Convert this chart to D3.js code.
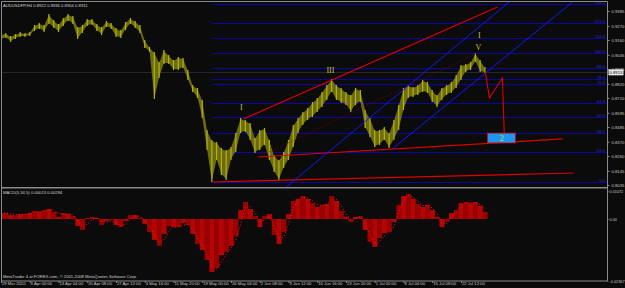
<!DOCTYPE html>
<html>
<head>
<meta charset="utf-8">
<script src="https://cdn.jsdelivr.net/npm/d3@7"></script>
<style>
  body { margin: 0; background: #0b0b0b; }
  svg { display: block; }
</style>
</head>
<body>
<div id="chart"></div>
<script>
// AUDUSD H4 chart (MetaTrader 4 look) with MACD sub window

// time axis labels, one every label step
var dateLabels = ['29 Mar 2010', '6 Apr 00:00', '13 Apr 04:00', '20 Apr 08:00', '27 Apr 12:00',
  '4 May 16:00', '11 May 20:00', '19 May 00:00', '26 May 04:00', '2 Jun 08:00', '9 Jun 12:00',
  '16 Jun 16:00', '23 Jun 20:00', '1 Jul 00:00', '8 Jul 04:00', '15 Jul 08:00', '22 Jul 12:00'];

var priceTicks = [0.9385, 0.9270, 0.9160, 0.9045, 0.8935, 0.8820, 0.8710, 0.8595,
  0.8485, 0.8370, 0.8260, 0.8145, 0.8035];

var macdTicks = [0.01072, 0.00, -0.02367];
var macdTickNames = ['0.01072', '0.00', '-0.02367'];

// price ranges, sampled every 1/6 of a label step
var priceHigh = [0.9207, 0.9214, 0.9191, 0.9207, 0.9222, 0.9214, 0.9222, 0.9276, 0.9292, 0.9276,
  0.9362, 0.9315, 0.9284, 0.9331, 0.9362, 0.9346, 0.9261, 0.9276, 0.9323, 0.9323,
  0.9284, 0.9261, 0.9307, 0.9292, 0.9253, 0.9238, 0.9300, 0.9331, 0.9307, 0.9276,
  0.9160, 0.9106, 0.9067, 0.8989, 0.9082, 0.9044, 0.9005, 0.9028, 0.9020, 0.8927,
  0.8811, 0.8788, 0.8694, 0.8462, 0.8384, 0.8369, 0.8322, 0.8306, 0.8330, 0.8438,
  0.8555, 0.8539, 0.8516, 0.8400, 0.8462, 0.8477, 0.8384, 0.8268, 0.8229, 0.8291,
  0.8384, 0.8500, 0.8555, 0.8601, 0.8632, 0.8679, 0.8710, 0.8756, 0.8811, 0.8857,
  0.8811, 0.8788, 0.8756, 0.8733, 0.8788, 0.8772, 0.8617, 0.8555, 0.8462, 0.8462,
  0.8485, 0.8438, 0.8539, 0.8656, 0.8788, 0.8811, 0.8795, 0.8811, 0.8850, 0.8834,
  0.8772, 0.8733, 0.8788, 0.8811, 0.8834, 0.8888, 0.8966, 0.8974, 0.8989, 0.9059,
  0.9005, 0.8951];
var priceLow = [0.9160, 0.9176, 0.9144, 0.9168, 0.9183, 0.9183, 0.9191, 0.9230, 0.9245, 0.9222,
  0.9284, 0.9253, 0.9222, 0.9269, 0.9307, 0.9284, 0.9168, 0.9214, 0.9269, 0.9276,
  0.9230, 0.9199, 0.9261, 0.9245, 0.9183, 0.9176, 0.9238, 0.9284, 0.9253, 0.9214,
  0.9098, 0.9067, 0.8702, 0.8865, 0.8974, 0.8974, 0.8927, 0.8927, 0.8943, 0.8850,
  0.8756, 0.8710, 0.8555, 0.8306, 0.8058, 0.8229, 0.8112, 0.8074, 0.8229, 0.8291,
  0.8438, 0.8446, 0.8384, 0.8283, 0.8306, 0.8345, 0.8229, 0.8136, 0.8074, 0.8167,
  0.8229, 0.8330, 0.8438, 0.8500, 0.8539, 0.8562, 0.8601, 0.8640, 0.8694, 0.8756,
  0.8694, 0.8671, 0.8656, 0.8601, 0.8656, 0.8679, 0.8477, 0.8407, 0.8330, 0.8345,
  0.8384, 0.8322, 0.8384, 0.8462, 0.8617, 0.8710, 0.8718, 0.8733, 0.8756, 0.8749,
  0.8679, 0.8640, 0.8694, 0.8733, 0.8749, 0.8788, 0.8850, 0.8912, 0.8927, 0.8989,
  0.8912, 0.8904];

// MACD histogram and signal, same sampling
var macdHist = [0.0023, 0.0023, 0.0015, 0.0015, 0.0019, 0.0019, 0.0023, 0.0031, 0.0027, 0.0034,
  0.0038, 0.0027, 0.0008, 0.0023, 0.0019, 0.0011, -0.0027, -0.0042, 0.0004, 0.0008,
  0.0004, -0.0023, -0.0008, -0.0004, -0.0023, -0.0031, -0.0008, 0.0015, 0.0015, 0.0004,
  -0.0019, -0.0050, -0.0080, -0.0103, -0.0057, -0.0027, -0.0031, -0.0031, -0.0015, -0.0023,
  -0.0057, -0.0096, -0.0119, -0.0157, -0.0203, -0.0188, -0.0138, -0.0126, -0.0103, -0.0065,
  0.0034, 0.0065, 0.0038, 0.0011, -0.0031, 0.0011, 0.0019, -0.0061, -0.0096, -0.0050,
  0.0019, 0.0069, 0.0077, 0.0088, 0.0077, 0.0061, 0.0046, 0.0054, 0.0057, 0.0088,
  0.0069, 0.0031, 0.0008, -0.0011, 0.0008, 0.0011, -0.0042, -0.0088, -0.0107, -0.0073,
  -0.0054, -0.0050, -0.0011, 0.0054, 0.0088, 0.0096, 0.0077, 0.0057, 0.0046, 0.0054,
  0.0034, 0.0008, -0.0031, -0.0011, 0.0023, 0.0034, 0.0061, 0.0065, 0.0061, 0.0065,
  0.0050, 0.0027];
var macdSignal = [0.0022, 0.0023, 0.0020, 0.0017, 0.0016, 0.0018, 0.0020, 0.0025, 0.0028, 0.0030,
  0.0034, 0.0033, 0.0022, 0.0019, 0.0020, 0.0017, -0.0005, -0.0030, -0.0020, -0.0004,
  0.0004, -0.0008, -0.0012, -0.0008, -0.0015, -0.0026, -0.0018, 0.0002, 0.0012, 0.0010,
  -0.0006, -0.0030, -0.0060, -0.0088, -0.0080, -0.0048, -0.0032, -0.0030, -0.0024, -0.0021,
  -0.0038, -0.0072, -0.0104, -0.0138, -0.0180, -0.0192, -0.0165, -0.0135, -0.0113, -0.0082,
  -0.0020, 0.0045, 0.0048, 0.0025, -0.0008, -0.0006, 0.0012, -0.0030, -0.0075, -0.0070,
  -0.0018, 0.0042, 0.0070, 0.0082, 0.0080, 0.0070, 0.0055, 0.0052, 0.0055, 0.0072,
  0.0075, 0.0050, 0.0020, 0.0000, 0.0002, 0.0008, -0.0020, -0.0062, -0.0095, -0.0088,
  -0.0065, -0.0052, -0.0030, 0.0025, 0.0068, 0.0090, 0.0085, 0.0068, 0.0052, 0.0052,
  0.0043, 0.0020, -0.0015, -0.0018, 0.0008, 0.0026, 0.0048, 0.0062, 0.0062, 0.0064,
  0.0056, 0.0040];

// fibonacci levels
var fibNames = ['138.2', '123.6', '111.8', '100.0', '88.6', '78.6', '76.4', '61.8', '50.0', '38.2', '23.6', '0.0'];
var fibPrices = [0.9439, 0.9292, 0.9176, 0.9059, 0.8943, 0.8857, 0.8819, 0.8671, 0.8562, 0.8438, 0.8291, 0.8058];
var fibStart = 7.35;

// trend lines: [t1, p1, t2, p2] (t in label steps)
var redLines = [[8.43, 0.8547, 17.27, 0.9416], [8.95, 0.8252, 19.53, 0.8392], [7.35, 0.8058, 19.92, 0.8128]];
var blueLines = [[9.92, 0.8019, 17.72, 0.9463], [13.61, 0.8314, 19.88, 0.9455]];
var dottedLine = [8.95, 0.8252, 16.57, 0.9059];

// projected zigzag
var zigTimes = [16.85, 16.99, 17.44, 17.51];
var zigPrices = [0.8912, 0.8710, 0.8865, 0.8415];

// wave labels
var waveNames = ['I', 'III', 'V', 'I'];
var waveTimes = [8.36, 11.46, 16.61, 16.64];
var wavePrices = [0.8640, 0.8927, 0.9106, 0.9199];

var bidPrice = 0.8913;
var boxTimes = [16.92, 17.90];
var boxPrices = [0.8438, 0.8361];

var title = 'AUDUSDFP,H4  0.8922 0.8936 0.8904 0.8911';
var macdTitle = 'MACD(5,34,5) 0.00013 0.00284';
var footer = 'MetaTrader 4 at FOREX.com, \u00a9 2001-2008 MetaQuotes Software Corp.';

// ---- layout ----
var W = 625, H = 288;
var left = 1.5, right = 607.5;
var pTop = 2, pBottom = 187;
var mTop = 189, mBottom = 281;
var step = 1 / 6;
var fontTiny = 4.2;
var fontFamily = 'Liberation Sans, Arial, sans-serif';

var svg = d3.select('#chart').append('svg')
    .attr('width', W)
    .attr('height', H)
    .style('background', '#0b0b0b');

var x = d3.scaleLinear().domain([0, 21.08]).range([1, 607]);
var yP = d3.scaleLinear().domain([0.80193, 0.94549]).range([pBottom, pTop]);
var yM = d3.scaleLinear().domain([-0.02375, 0.01149]).range([mBottom, mTop]);

svg.append('clipPath').attr('id', 'clipP')
  .append('rect').attr('x', left).attr('y', pTop).attr('width', right - left).attr('height', pBottom - pTop);
svg.append('clipPath').attr('id', 'clipM')
  .append('rect').attr('x', left).attr('y', mTop).attr('width', right - left).attr('height', mBottom - mTop);

var gP = svg.append('g').attr('clip-path', 'url(#clipP)');
var gM = svg.append('g').attr('clip-path', 'url(#clipM)');

// fibonacci lines
gP.selectAll('.fib')
  .data(fibPrices)
  .enter().append('line')
    .attr('x1', x(fibStart))
    .attr('x2', right)
    .attr('y1', function(d) { return Math.round(yP(d)) + 0.5; })
    .attr('y2', function(d) { return Math.round(yP(d)) + 0.5; })
    .attr('stroke', '#0808a0')
    .attr('stroke-width', 1);

gP.selectAll('.fibText')
  .data(fibNames)
  .enter().append('text')
    .attr('x', 605)
    .attr('y', function(d, i) { return Math.round(yP(fibPrices[i])) - 0.5; })
    .attr('text-anchor', 'end')
    .attr('font-family', fontFamily)
    .attr('font-size', fontTiny)
    .attr('fill', '#2a2ad8')
    .text(function(d) { return d; });

// bid line
gP.append('line')
  .attr('x1', left).attr('x2', right)
  .attr('y1', Math.round(yP(bidPrice)) + 0.5)
  .attr('y2', Math.round(yP(bidPrice)) + 0.5)
  .attr('stroke', '#3c4450')
  .attr('stroke-dasharray', '1 1');

// price ranges: a soft band plus one bar per sample
var idx = d3.range(priceHigh.length);
gP.append('path')
  .datum(idx)
  .attr('fill', '#8e8e10')
  .attr('fill-opacity', 0.75)
  .attr('d', d3.area()
    .x(function(i) { return x(i * step); })
    .y0(function(i) { return yP(priceLow[i]) - 1; })
    .y1(function(i) { return yP(priceHigh[i]) + 1; })
  );
gP.selectAll('.bar')
  .data(idx)
  .enter().append('line')
    .attr('x1', function(i) { return x(i * step); })
    .attr('x2', function(i) { return x(i * step); })
    .attr('y1', function(i) { return yP(priceHigh[i]); })
    .attr('y2', function(i) { return yP(priceLow[i]); })
    .attr('stroke', '#b2b214')
    .attr('stroke-width', 1.2);

// trend lines
gP.selectAll('.red')
  .data(redLines)
  .enter().append('line')
    .attr('x1', function(d) { return x(d[0]); })
    .attr('y1', function(d) { return yP(d[1]); })
    .attr('x2', function(d) { return x(d[2]); })
    .attr('y2', function(d) { return yP(d[3]); })
    .attr('stroke', '#e00000')
    .attr('stroke-width', 1.2);

gP.selectAll('.blue')
  .data(blueLines)
  .enter().append('line')
    .attr('x1', function(d) { return x(d[0]); })
    .attr('y1', function(d) { return yP(d[1]); })
    .attr('x2', function(d) { return x(d[2]); })
    .attr('y2', function(d) { return yP(d[3]); })
    .attr('stroke', '#1818f0')
    .attr('stroke-width', 1);

gP.append('line')
  .attr('x1', x(dottedLine[0])).attr('y1', yP(dottedLine[1]))
  .attr('x2', x(dottedLine[2])).attr('y2', yP(dottedLine[3]))
  .attr('stroke', '#a00000')
  .attr('stroke-width', 0.8)
  .attr('stroke-dasharray', '1 2');

// projected path
gP.append('path')
  .datum(zigTimes)
  .attr('fill', 'none')
  .attr('stroke', '#e00000')
  .attr('stroke-width', 1.1)
  .attr('d', d3.line()
    .x(function(d) { return x(d); })
    .y(function(d, i) { return yP(zigPrices[i]); })
  );

// wave 2 target box
gP.append('rect')
  .attr('x', x(boxTimes[0]))
  .attr('y', yP(boxPrices[0]))
  .attr('width', x(boxTimes[1]) - x(boxTimes[0]))
  .attr('height', yP(boxPrices[1]) - yP(boxPrices[0]))
  .attr('fill', '#1e96f0')
  .attr('stroke', '#d00000')
  .attr('stroke-width', 0.8);
gP.append('text')
  .attr('x', (x(boxTimes[0]) + x(boxTimes[1])) / 2)
  .attr('y', (yP(boxPrices[0]) + yP(boxPrices[1])) / 2 + 3)
  .attr('text-anchor', 'middle')
  .attr('font-family', 'Liberation Serif, Times New Roman, serif')
  .attr('font-size', 9)
  .attr('fill', '#d8d020')
  .text('2');

// wave labels
gP.selectAll('.wave')
  .data(waveNames)
  .enter().append('text')
    .attr('x', function(d, i) { return x(waveTimes[i]); })
    .attr('y', function(d, i) { return yP(wavePrices[i]) + 3; })
    .attr('text-anchor', 'middle')
    .attr('font-family', 'Liberation Serif, Times New Roman, serif')
    .attr('font-size', 8)
    .attr('fill', '#c8c028')
    .text(function(d) { return d; });

// MACD histogram
var bw = x(step) - x(0);
gM.selectAll('.hist')
  .data(macdHist)
  .enter().append('rect')
    .attr('x', function(d, i) { return x(i * step) - bw / 2; })
    .attr('y', function(d) { return Math.min(yM(d), yM(0)); })
    .attr('width', bw + 0.3)
    .attr('height', function(d) { return Math.abs(yM(d) - yM(0)); })
    .attr('fill', function(d, i) { return i % 2 ? '#9a0000' : '#b40404'; });

gM.append('path')
  .datum(macdSignal)
  .attr('fill', 'none')
  .attr('stroke', '#ff1a1a')
  .attr('stroke-width', 1)
  .attr('stroke-dasharray', '1 2')
  .attr('d', d3.line()
    .x(function(d, i) { return x(i * step); })
    .y(function(d) { return yM(d); })
  );

// frames
var frame = svg.append('g').attr('stroke', '#8a8a8a').attr('fill', 'none');
frame.append('line').attr('x1', left).attr('x2', right).attr('y1', 1.5).attr('y2', 1.5);
frame.append('line').attr('x1', left).attr('x2', left).attr('y1', 1.5).attr('y2', mBottom);
frame.append('line').attr('x1', right).attr('x2', right).attr('y1', 1.5).attr('y2', mBottom);
frame.append('rect').attr('x', left).attr('y', pBottom).attr('width', right - left).attr('height', 1.5)
  .attr('fill', '#8a8a8a').attr('stroke', 'none');
frame.append('line').attr('x1', left).attr('x2', right).attr('y1', mBottom).attr('y2', mBottom);

// price axis
var axisP = svg.append('g')
  .attr('transform', 'translate(' + right + ',0)')
  .call(d3.axisRight(yP).tickValues(priceTicks).tickSize(2).tickPadding(2).tickFormat(d3.format('.4f')));
var axisM = svg.append('g')
  .attr('transform', 'translate(' + right + ',0)')
  .call(d3.axisRight(yM).tickValues(macdTicks).tickSize(1).tickPadding(1)
    .tickFormat(function(d, i) { return macdTickNames[i]; }));
[axisP, axisM].forEach(function(a) {
  a.select('.domain').remove();
  a.selectAll('line').attr('stroke', '#8a8a8a');
  a.selectAll('text').attr('fill', '#c8c8c8').attr('font-size', fontTiny).attr('font-family', fontFamily);
});
axisM.selectAll('text').attr('font-size', 3.8);

// bid price tag, drawn over the axis like the terminal does
svg.append('rect')
  .attr('x', right + 1).attr('y', yP(bidPrice) - 2.5)
  .attr('width', 15).attr('height', 6)
  .attr('fill', '#e8e8e8');
svg.append('text')
  .attr('x', right + 2).attr('y', yP(bidPrice) + 2)
  .attr('font-size', fontTiny).attr('font-family', fontFamily)
  .attr('fill', '#000')
  .text(d3.format('.4f')(bidPrice));

// time axis
var axisT = svg.append('g')
  .attr('transform', 'translate(0,' + mBottom + ')')
  .call(d3.axisBottom(x).tickValues(d3.range(dateLabels.length)).tickSize(2).tickPadding(0)
    .tickFormat(function(d, i) { return dateLabels[i]; }));
axisT.select('.domain').remove();
axisT.selectAll('line').attr('stroke', '#8a8a8a');
axisT.selectAll('text')
  .attr('fill', '#c8c8c8')
  .attr('font-size', fontTiny)
  .attr('font-family', fontFamily)
  .attr('text-anchor', 'start')
  .attr('dx', 0.5)
  .attr('dy', '0.55em');

// captions
svg.append('text').attr('x', 3).attr('y', 7)
  .attr('font-size', fontTiny).attr('font-family', fontFamily).attr('fill', '#d0d0d0')
  .text(title);
svg.append('text').attr('x', 3).attr('y', 194)
  .attr('font-size', fontTiny).attr('font-family', fontFamily).attr('fill', '#d0d0d0')
  .text(macdTitle);
svg.append('text').attr('x', 3).attr('y', 278)
  .attr('font-size', fontTiny).attr('font-family', fontFamily).attr('fill', '#d0d0d0')
  .text(footer);
</script>
</body>
</html>
